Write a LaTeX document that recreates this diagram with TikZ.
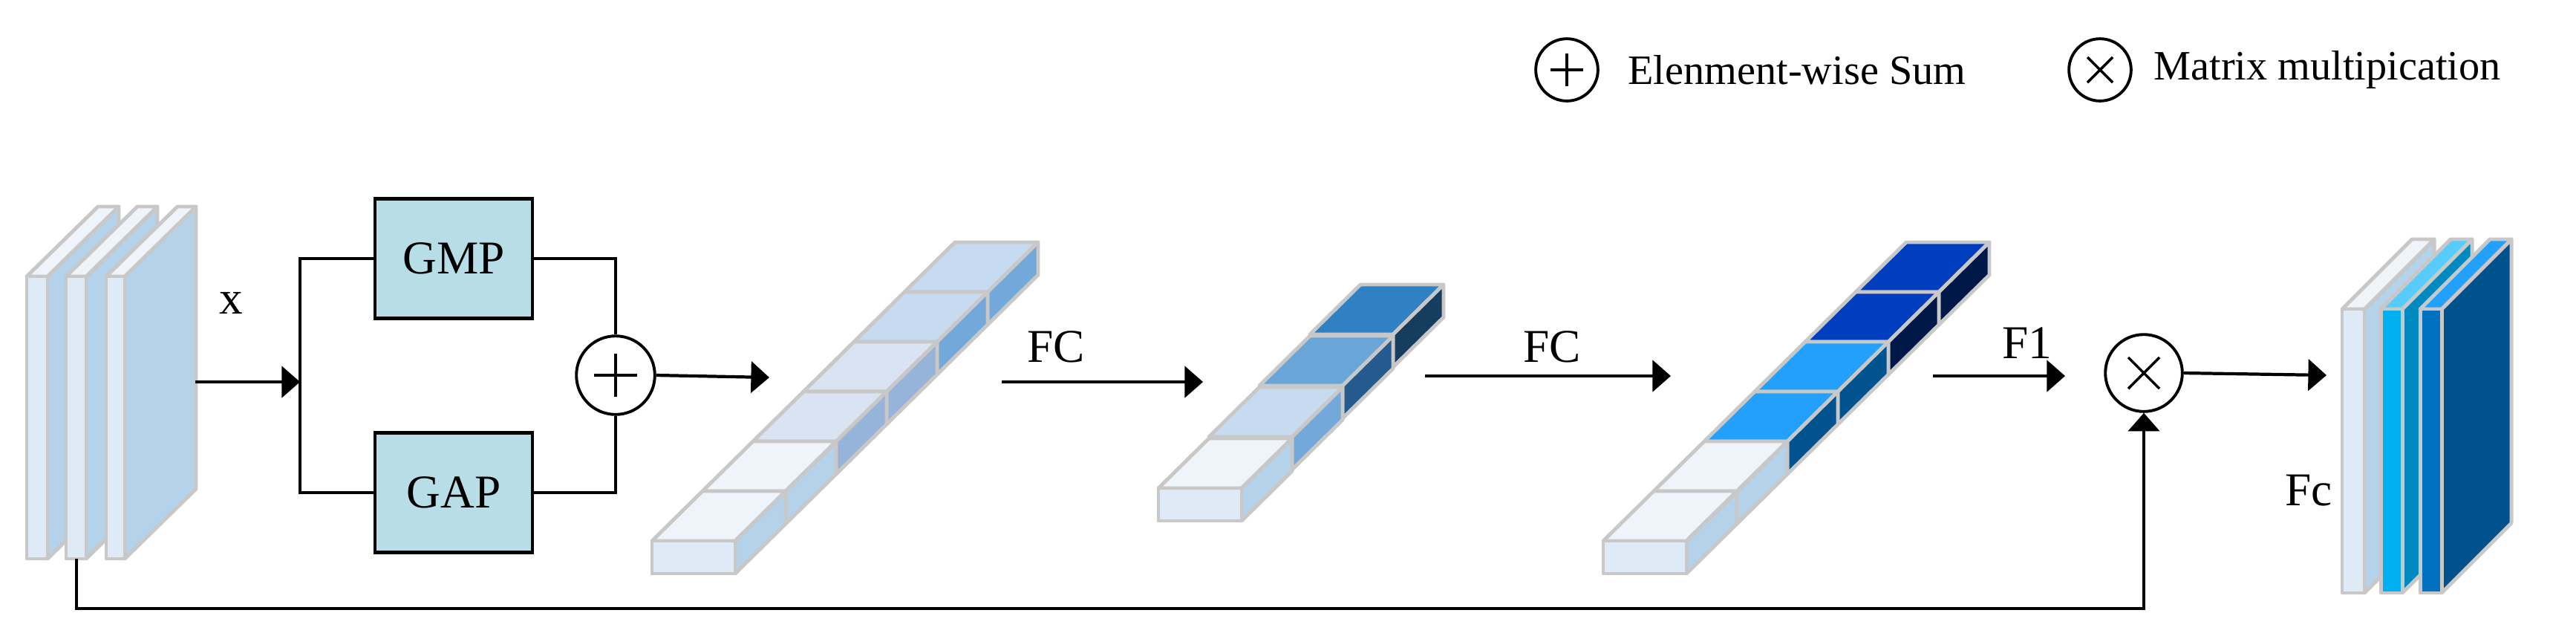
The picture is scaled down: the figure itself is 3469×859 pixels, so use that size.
\documentclass[tikz,border=0pt]{standalone}
\usepackage{fontspec}
\setmainfont{Liberation Serif}
\usetikzlibrary{arrows.meta}
\begin{document}
\begin{tikzpicture}[x=0.01cm,y=-0.01cm,
  conn/.style={line width=1.2pt},
  arr/.style={conn,-{Triangle[length=7pt,width=12pt]}},
  blk/.style={draw=black,line width=1.3pt,fill=boxc,minimum width=213*0.2834pt,minimum height=162*0.2834pt,font=\fontsize{18}{20}\selectfont},
  face/.style={draw=edge,line width=1.4pt,line join=round},
  lbl/.style={font=\fontsize{18}{20}\selectfont},
  op/.style={circle,draw,line width=1.1pt,inner sep=0pt,minimum size=#1*0.2834pt},
  plus/.style={path picture={\draw[line width=1pt] ([xshift=-#1]path picture bounding box.center)--([xshift=#1]path picture bounding box.center) ([yshift=-#1]path picture bounding box.center)--([yshift=#1]path picture bounding box.center);}},
  times/.style={path picture={\draw[line width=1pt] ([shift={(-#1,-#1)}]path picture bounding box.center)--([shift={(#1,#1)}]path picture bounding box.center) ([shift={(-#1,#1)}]path picture bounding box.center)--([shift={(#1,-#1)}]path picture bounding box.center);}}
]
\definecolor{edge}{HTML}{C8C8C8}
\definecolor{boxc}{HTML}{B7DEE6}
\useasboundingbox (0,0) rectangle (3469,859);
% slab: x, w, ytop, ybot, dx, dy, front, side, top (hex)
\newcommand{\myslab}[9]{%
  \definecolor{cf}{HTML}{#7}\definecolor{cs}{HTML}{#8}\definecolor{ct}{HTML}{#9}%
  \filldraw[fill=cs,face] (#1+#2,#3)--(#1+#2+#5,#3+#6)--(#1+#2+#5,#4+#6)--(#1+#2,#4)--cycle;
  \filldraw[fill=ct,face] (#1,#3)--(#1+#5,#3+#6)--(#1+#2+#5,#3+#6)--(#1+#2,#3)--cycle;
  \filldraw[fill=cf,face] (#1,#3) rectangle (#1+#2,#4);}
% cube: x, ybottom, top colour, side colour (hex)
\newcommand{\mycube}[4]{%
  \definecolor{ct}{HTML}{#3}\definecolor{cs}{HTML}{#4}%
  \filldraw[fill=ct,face] (#1,#2-44)--(#1+112,#2-44)--(#1+180,#2-111)--(#1+68,#2-111)--cycle;
  \filldraw[fill=cs,face] (#1+112,#2)--(#1+112,#2-44)--(#1+180,#2-111)--(#1+180,#2-67)--cycle;}
\newcommand{\myfront}[2]{\definecolor{cf}{HTML}{DEEAF6}\filldraw[fill=cf,face] (#1,#2) rectangle (#1+112,#2-44);}
% input stack
\myslab{36}{28}{372}{752}{96}{-94}{DEEAF6}{B4D2EA}{EEF4FA}
\myslab{89}{27}{372}{752}{96}{-94}{DEEAF6}{B4D2EA}{EEF4FA}
\myslab{143}{25}{372}{752}{96}{-94}{DEEAF6}{B4D2EA}{EEF4FA}
% bar 1
\foreach \i/\t/\s in {5/C6DBEF/73A9DA,4/C6DBEF/73A9DA,3/D9E3F1/96B3DA,2/D9E3F1/96B3DA,1/EEF4FA/B4D2EA,0/EEF4FA/B4D2EA}{
  \mycube{878+68*\i}{772-67*\i}{\t}{\s}}
\myfront{878}{772}
% bar 2
\foreach \i/\t/\s in {3/3080C4/173D5E,2/6AA5D8/245A8E,1/C6DBEF/73A9DA,0/EEF4FA/B4D2EA}{
  \mycube{1560+68*\i}{701-69*\i}{\t}{\s}}
\myfront{1560}{701}
% bar 3
\foreach \i/\t/\s in {5/003EC0/001848,4/003EC0/001848,3/22A0FC/00538F,2/22A0FC/00538F,1/EEF4FA/B4D2EA,0/EEF4FA/B4D2EA}{
  \mycube{2159+68*\i}{772-67*\i}{\t}{\s}}
\myfront{2159}{772}
% output stack
\myslab{3154}{30}{416}{798}{94}{-94}{DEEAF6}{B4D2EA}{EEF4FA}
\myslab{3206}{29}{416}{798}{94}{-94}{00B0F0}{0088BF}{55CCFC}
\myslab{3259}{29}{416}{798}{94}{-94}{0070C0}{00528F}{22A0FC}
% nodes
\node[blk] (gmp) at (611,348) {GMP};
\node[blk] (gap) at (611,663) {GAP};
\node[op=106,plus=0.29cm] (sum) at (829,505) {};
\node[op=104,times=0.21cm] (mul) at (2887,502) {};
\coordinate (in) at (263,514);
\coordinate (br) at (404,514);
\coordinate (inb) at (103,752);
\coordinate (b1e) at (1036,508);
\coordinate (b1s) at (1349,514);
\coordinate (b2e) at (1620,514);
\coordinate (b2s) at (1919,506);
\coordinate (b3e) at (2250,506);
\coordinate (b3s) at (2603,506);
\coordinate (b3t) at (2781,506);
\coordinate (out) at (3133,505);
% connectors
\draw[arr] (in) -- (br);
\draw[conn] (gmp.west) -| (br) |- (gap.west);
\draw[conn] (gmp.east) -| (sum.north);
\draw[conn] (gap.east) -| (sum.south);
\draw[arr] (sum.east) -- (b1e);
\draw[arr] (b1s) -- (b2e);
\draw[arr] (b2s) -- (b3e);
\draw[arr] (b3s) -- (b3t);
\draw[arr] (mul.east) -- (out);
\draw[arr] (inb) |- (2887,819) -- (mul.south);
% labels
\node[lbl] (lx) at (311,408) {x};
\node[lbl] (lfc1) at (1422,467) {FC};
\node[lbl] (lfc2) at (2090,467) {FC};
\node[lbl] (lf1) at (2730,462) {F1};
\node[lbl] (lfc) at (3109,660) {Fc};
% legend
\node[op=84,plus=0.22cm] (lgs) at (2110,94) {};
\node[anchor=west,font=\fontsize{16}{18}\selectfont] (lgst) at (2180,94) {Elenment-wise Sum};
\node[op=84,times=0.17cm] (lgm) at (2828,94) {};
\node[anchor=west,font=\fontsize{16}{18}\selectfont] (lgmt) at (2888,94) {Matrix multipication};
\end{tikzpicture}
\end{document}
